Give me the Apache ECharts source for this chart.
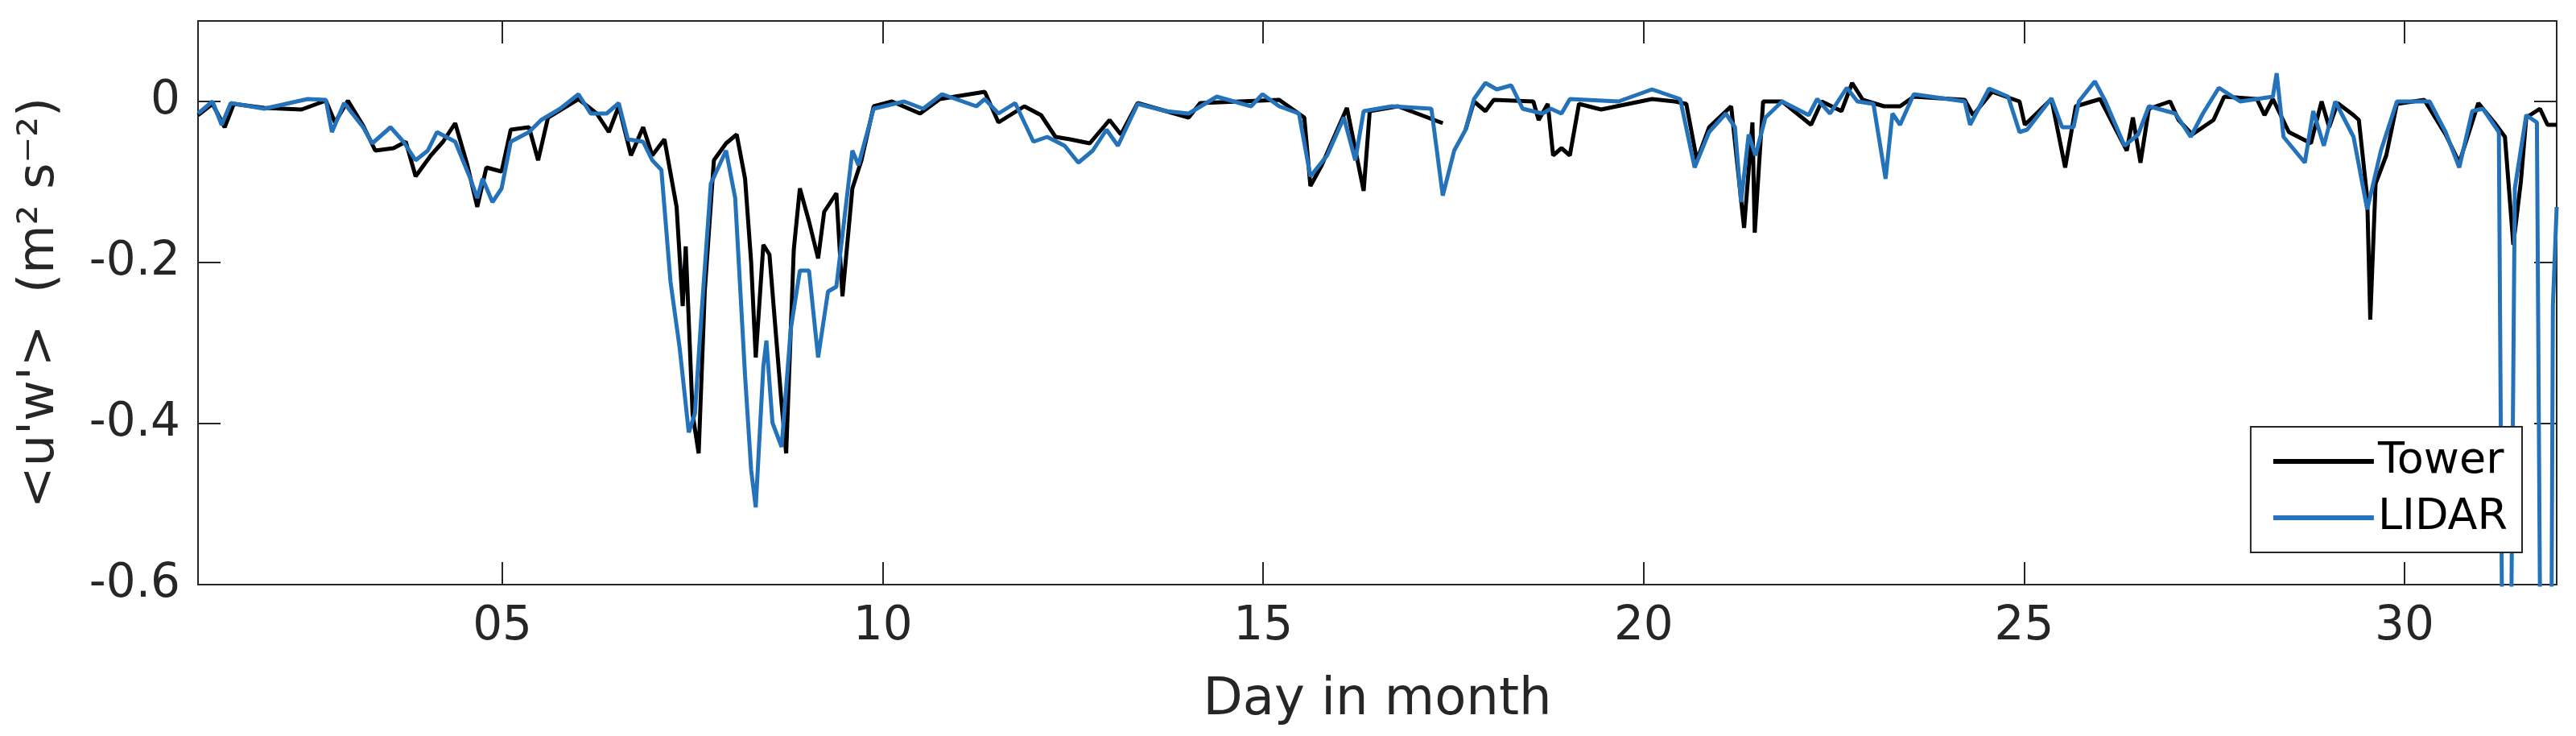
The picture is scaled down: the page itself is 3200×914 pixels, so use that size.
<!DOCTYPE html>
<html>
<head>
<meta charset="utf-8">
<script src="https://cdn.jsdelivr.net/npm/echarts@6/dist/echarts.min.js"></script>
<style>html,body{margin:0;background:#fff}#main{width:3200px;height:914px}</style>
</head>
<body>
<div id="main"></div>
<script>
// day in month
var towerDay = [1.0,1.19,1.35,1.47,1.87,2.36,2.68,2.8,2.97,3.17,3.33,3.57,3.73,3.86,4.06,4.22,4.38,4.54,4.67,4.79,4.99,5.11,5.35,5.47,5.6,6.0,6.24,6.4,6.53,6.69,6.85,6.97,7.13,7.29,7.37,7.41,7.5,7.58,7.66,7.78,7.94,8.08,8.19,8.27,8.33,8.43,8.51,8.67,8.73,8.83,8.91,9.03,9.15,9.23,9.39,9.47,9.6,9.72,9.88,10.12,10.49,10.75,11.34,11.52,11.86,12.08,12.27,12.46,12.72,12.98,13.13,13.35,14.02,14.17,15.21,15.54,15.62,15.77,16.1,16.32,16.4,16.77,17.36,17.5,17.66,17.77,17.92,18.03,18.55,18.62,18.74,18.81,18.92,19.03,19.15,19.44,20.11,20.41,20.56,20.7,20.86,21.15,21.32,21.43,21.46,21.57,21.82,22.2,22.34,22.6,22.74,22.88,23.16,23.37,23.55,24.22,24.33,24.58,24.94,25.01,25.36,25.54,25.68,26.0,26.35,26.43,26.53,26.64,26.92,27.03,27.21,27.49,27.63,28.06,28.16,28.27,28.48,28.77,28.91,29.01,29.12,29.33,29.4,29.51,29.55,29.62,29.76,29.9,30.26,30.54,30.72,30.97,31.18,31.32,31.43,31.53,31.6,31.78,31.88,32.0];
var towerVal = [-0.017,-0.003,-0.032,-0.003,-0.008,-0.010,0.001,-0.026,0.001,-0.030,-0.061,-0.058,-0.050,-0.093,-0.067,-0.050,-0.027,-0.079,-0.131,-0.082,-0.087,-0.035,-0.032,-0.073,-0.020,0.003,-0.015,-0.038,-0.006,-0.067,-0.032,-0.067,-0.047,-0.131,-0.254,-0.180,-0.388,-0.437,-0.236,-0.073,-0.052,-0.041,-0.096,-0.200,-0.318,-0.178,-0.190,-0.376,-0.437,-0.184,-0.108,-0.149,-0.195,-0.137,-0.114,-0.242,-0.108,-0.073,-0.006,0.000,-0.015,0.003,0.012,-0.026,-0.006,-0.017,-0.044,-0.047,-0.052,-0.023,-0.041,-0.002,-0.020,-0.002,0.002,-0.020,-0.105,-0.079,-0.008,-0.111,-0.012,-0.006,-0.027,null,-0.035,0.000,-0.012,0.002,0.000,-0.023,-0.003,-0.067,-0.058,-0.067,-0.003,-0.010,0.003,0.000,-0.003,-0.073,-0.032,-0.006,-0.157,-0.026,-0.163,0.000,0.000,-0.029,0.000,-0.012,0.023,0.002,-0.006,-0.006,0.006,0.002,-0.017,0.012,0.000,-0.029,0.003,-0.082,-0.006,0.003,-0.061,-0.020,-0.076,-0.009,0.000,-0.023,-0.041,-0.023,0.006,0.003,-0.017,0.003,-0.038,-0.052,0.000,-0.032,-0.002,-0.017,-0.023,-0.120,-0.271,-0.102,-0.067,-0.003,0.002,-0.041,-0.076,-0.002,-0.026,-0.044,-0.178,-0.099,-0.020,-0.009,-0.029,-0.029];

var lidarDay = [1.0,1.19,1.31,1.43,1.87,2.44,2.68,2.76,2.92,3.17,3.29,3.53,3.7,3.86,4.02,4.14,4.38,4.58,4.67,4.74,4.87,4.99,5.11,5.35,5.51,5.76,6.0,6.16,6.37,6.53,6.65,6.85,6.97,7.09,7.21,7.33,7.45,7.53,7.62,7.74,7.94,8.06,8.19,8.27,8.33,8.43,8.47,8.55,8.67,8.79,8.91,9.03,9.15,9.28,9.39,9.6,9.68,9.88,10.28,10.53,10.78,11.23,11.34,11.52,11.74,11.98,12.16,12.39,12.57,12.76,12.94,13.09,13.35,13.72,14.02,14.39,14.84,14.99,15.21,15.47,15.62,15.84,16.06,16.21,16.32,16.69,17.21,17.36,17.51,17.66,17.77,17.92,18.07,18.26,18.41,18.67,18.78,18.92,19.03,19.67,20.11,20.48,20.67,20.86,21.08,21.2,21.28,21.38,21.47,21.6,21.82,22.17,22.28,22.45,22.67,22.81,23.02,23.18,23.27,23.37,23.55,24.22,24.29,24.54,24.79,24.94,25.04,25.36,25.5,25.65,25.72,25.93,26.07,26.32,26.5,26.64,26.99,27.19,27.35,27.56,27.84,28.27,28.32,28.41,28.69,28.8,28.94,29.09,29.33,29.51,29.69,29.9,30.33,30.54,30.72,30.89,31.03,31.24,31.3,31.38,31.45,31.6,31.74,31.8,31.92,31.95,32.0];
var lidarVal = [-0.015,0.000,-0.029,-0.002,-0.009,0.003,0.002,-0.038,-0.002,-0.032,-0.052,-0.032,-0.050,-0.073,-0.061,-0.038,-0.050,-0.096,-0.120,-0.096,-0.125,-0.108,-0.050,-0.038,-0.023,-0.009,0.009,-0.015,-0.015,-0.002,-0.047,-0.050,-0.073,-0.085,-0.224,-0.306,-0.411,-0.388,-0.260,-0.102,-0.061,-0.120,-0.341,-0.458,-0.504,-0.329,-0.297,-0.399,-0.429,-0.283,-0.210,-0.210,-0.318,-0.236,-0.230,-0.061,-0.079,-0.009,0.000,-0.009,0.009,-0.006,0.003,-0.015,-0.002,-0.050,-0.044,-0.055,-0.076,-0.061,-0.035,-0.055,-0.003,-0.012,-0.015,0.006,-0.006,0.009,-0.006,-0.015,-0.093,-0.067,-0.020,-0.073,-0.012,-0.006,-0.009,-0.117,-0.061,-0.035,0.003,0.023,0.015,0.020,-0.009,-0.015,-0.009,-0.015,0.003,0.000,0.015,0.003,-0.082,-0.038,-0.015,-0.032,-0.125,-0.041,-0.067,-0.020,0.000,-0.017,0.003,-0.015,0.017,0.000,-0.003,-0.096,-0.015,-0.029,0.009,0.000,-0.029,0.016,0.006,-0.038,-0.035,0.004,-0.032,-0.032,0.000,0.025,0.000,-0.055,-0.041,-0.006,-0.015,-0.044,-0.015,0.017,0.000,0.006,0.035,-0.044,-0.076,-0.012,-0.055,0.000,-0.044,-0.134,-0.061,0.000,0.000,-0.038,-0.082,-0.012,-0.009,-0.038,-0.9,-0.9,-0.108,-0.017,-0.026,-0.9,-0.9,-0.254,-0.131];

var xTicks = [5, 10, 15, 20, 25, 30];
var yTicks = [-0.6, -0.4, -0.2, 0];

function pairs(xs, ys) {
  return xs.map(function (x, i) { return [x, ys[i]]; });
}

var myChart = echarts.init(document.getElementById('main'));
var font = 'DejaVu Sans';
var axisColor = '#262626';

function frameAxis(extra) {
  return Object.assign({
    type: 'value',
    splitLine: { show: false },
    axisLine: { show: true, onZero: false, lineStyle: { color: axisColor, width: 2 } }
  }, extra);
}

var option = {
  animation: false,
  textStyle: { fontFamily: font },
  grid: { left: 246, right: 24, top: 26, bottom: 188 },
  legend: {
    right: 67, top: 530, orient: 'vertical',
    data: ['Tower', 'LIDAR'],
    backgroundColor: '#fff', borderColor: '#262626', borderWidth: 2,
    padding: [16, 18, 16, 28], itemGap: 16,
    itemWidth: 125, itemHeight: 50, icon: 'path://M0,22 L125,22 L125,28 L0,28 Z',
    textStyle: { fontSize: 54, color: '#000', fontFamily: font }
  },
  xAxis: [
    frameAxis({
      min: 1, max: 32,
      name: 'Day in month', nameLocation: 'middle', nameGap: 112,
      nameTextStyle: { fontSize: 64, color: axisColor },
      axisTick: { inside: true, length: 28, customValues: xTicks, lineStyle: { color: axisColor, width: 2 } },
      axisLabel: { fontSize: 58, color: axisColor, margin: 24, customValues: xTicks,
        formatter: function (v) { return (v < 10 ? '0' : '') + v; } }
    }),
    frameAxis({
      min: 1, max: 32, position: 'top', axisLabel: { show: false },
      axisTick: { inside: true, length: 28, customValues: xTicks, lineStyle: { color: axisColor, width: 2 } }
    })
  ],
  yAxis: [
    frameAxis({
      min: -0.6, max: 0.1,
      name: "<u'w'>  (m² s⁻²)", nameLocation: 'middle', nameGap: 165,
      nameTextStyle: { fontSize: 62, color: axisColor },
      axisTick: { inside: true, length: 28, customValues: yTicks, lineStyle: { color: axisColor, width: 2 } },
      axisLabel: { fontSize: 58, color: axisColor, margin: 22, customValues: yTicks,
        formatter: function (v) { return v === 0 ? '0' : v.toFixed(1); } }
    }),
    frameAxis({
      min: -0.6, max: 0.1, position: 'right', axisLabel: { show: false },
      axisTick: { inside: true, length: 28, customValues: yTicks, lineStyle: { color: axisColor, width: 2 } }
    })
  ],
  series: [
    {
      name: 'Tower', type: 'line', showSymbol: false, clip: true,
      lineStyle: { color: '#000', width: 5 }, itemStyle: { color: '#000' },
      data: pairs(towerDay, towerVal)
    },
    {
      name: 'LIDAR', type: 'line', showSymbol: false, clip: true,
      lineStyle: { color: '#2372ba', width: 5 }, itemStyle: { color: '#2372ba' },
      data: pairs(lidarDay, lidarVal)
    }
  ]
};

myChart.setOption(option);
</script>
</body>
</html>
